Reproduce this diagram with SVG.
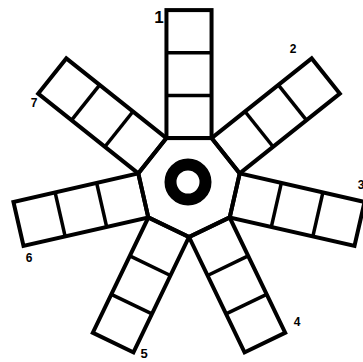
<svg xmlns="http://www.w3.org/2000/svg" xmlns:xlink="http://www.w3.org/1999/xlink" width="363" height="362" viewBox="0 0 363 362">
<style>
.o{fill:none;stroke:#000;stroke-width:4;stroke-linejoin:miter}
.d{fill:none;stroke:#000;stroke-width:3.5}
.t{font-family:"Liberation Sans",Arial,sans-serif;font-weight:bold;fill:#000}
</style>
<defs>
<g id="arm">
<rect class="o" x="166.45" y="10.1" width="45.1" height="128"/>
<line class="d" x1="166.45" y1="52.8" x2="211.55" y2="52.8"/>
<line class="d" x1="166.45" y1="95.4" x2="211.55" y2="95.4"/>
</g>
</defs>
<rect width="363" height="362" fill="#fff"/>
<g id="arm1"><use xlink:href="#arm"/></g>
<g id="arm2"><use xlink:href="#arm" transform="rotate(51.43 189 185)"/></g>
<g id="arm3"><use xlink:href="#arm" transform="rotate(102.86 189 185)"/></g>
<g id="arm4"><use xlink:href="#arm" transform="rotate(154.29 189 185)"/></g>
<g id="arm5"><use xlink:href="#arm" transform="rotate(205.71 189 185)"/></g>
<g id="arm6"><use xlink:href="#arm" transform="rotate(257.14 189 185)"/></g>
<g id="arm7"><use xlink:href="#arm" transform="rotate(308.57 189 185)"/></g>
<g id="hub">
<polygon class="o" fill="#fff" points="189,237 148.3,217.4 138.3,173.4 166.4,138.1 211.6,138.1 239.7,173.4 229.7,217.4"/>
<circle cx="188" cy="182" r="17.5" fill="none" stroke="#000" stroke-width="12"/>
</g>
<g id="labels">
<text class="t" x="159" y="23" font-size="17" text-anchor="middle">1</text>
<text class="t" x="293" y="53" font-size="12" text-anchor="middle">2</text>
<text class="t" x="361" y="189" font-size="12" text-anchor="middle">3</text>
<text class="t" x="297" y="326" font-size="12" text-anchor="middle">4</text>
<text class="t" x="144" y="358" font-size="13" text-anchor="middle">5</text>
<text class="t" x="29" y="262" font-size="12" text-anchor="middle">6</text>
<text class="t" x="34" y="107" font-size="12" text-anchor="middle">7</text>
</g>
</svg>
